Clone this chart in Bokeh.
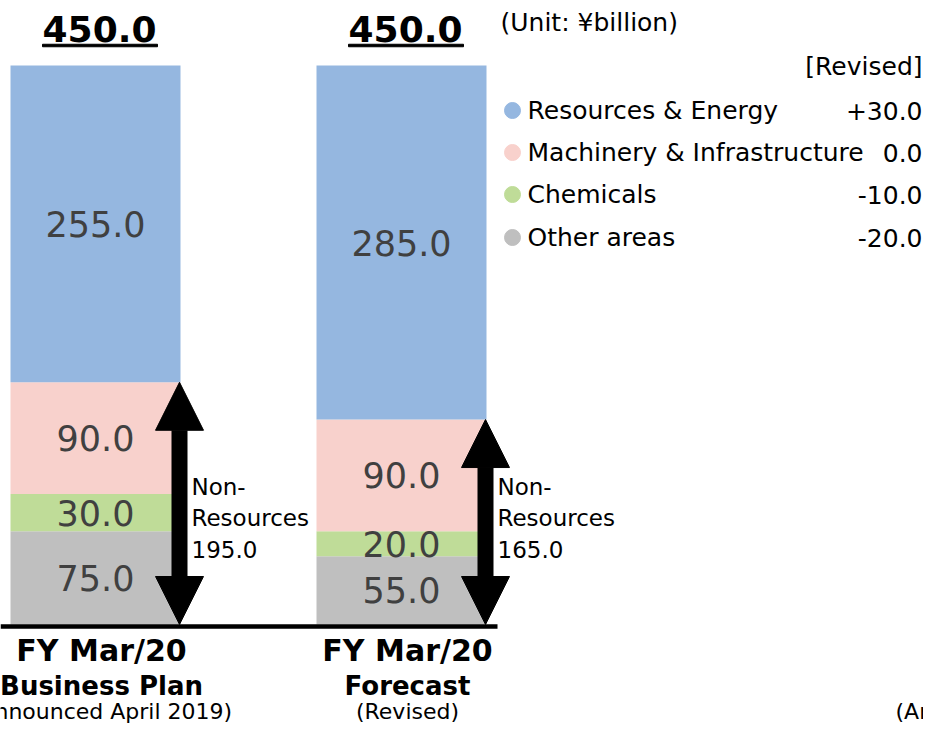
from bokeh.plotting import figure
from bokeh.models import Range1d, Arrow, NormalHead, ColumnDataSource
from bokeh.core.properties import value
from bokeh.embed import file_html
from bokeh.resources import INLINE

# ---------------- data ----------------
cat_line1 = ["FY Mar/20", "FY Mar/20"]
cat_line2 = ["Business Plan", "Forecast"]
cat_line3 = ["(Announced April 2019)", "(Revised)"]
segment_keys = ["other", "chemicals", "machinery", "resources"]
other = [75.0, 55.0]
chemicals = [30.0, 20.0]
machinery = [90.0, 90.0]
resources = [255.0, 285.0]
legend_names = ["Resources & Energy", "Machinery & Infrastructure", "Chemicals", "Other areas"]
unit_label = "(Unit: ¥billion)"
revised_header = "[Revised]"
cut_label = "(Announced April 2019)"

# ---------------- style ----------------
colors = {"resources": "#95B7E0", "machinery": "#F8D1CC", "chemicals": "#BFDC98", "other": "#BFBFBF"}
FONT = value("DejaVu Sans")

W, H = 923, 723
UX = 306.0                 # px per category step
PX = (624.0 - 65.0) / 450  # px per value unit
X0_REF, Y0_REF = 95.0, 624.0

def X(ref):
    return (ref - X0_REF) / UX

def Y(ref):
    return (Y0_REF - ref) / PX

x_start = X(0)
y_start = Y(H)

p = figure(width=W, height=H, output_backend="svg", toolbar_location=None,
           x_range=Range1d(x_start, x_start + W / UX),
           y_range=Range1d(y_start, y_start + H / PX),
           x_axis_type=None, y_axis_type=None, min_border=0)
p.outline_line_color = None
p.grid.visible = False
p.background_fill_color = "white"

xs = list(range(len(cat_line1)))
src = ColumnDataSource(dict(x=xs, other=other, chemicals=chemicals,
                            machinery=machinery, resources=resources))
p.vbar_stack(segment_keys, x="x", width=170 / UX, source=src,
             color=[colors[k] for k in segment_keys], line_color=None)

# segment value labels
series = {"other": other, "chemicals": chemicals, "machinery": machinery, "resources": resources}
lx, ly, lt = [], [], []
for i in xs:
    bottom = 0.0
    for k in segment_keys:
        v = series[k][i]
        lx.append(i)
        ly.append(bottom + v / 2)
        lt.append(f"{v:.1f}")
        bottom += v
p.text(x=lx, y=ly, text=lt, text_align="center", text_baseline="middle",
       text_font=FONT, text_font_size="35px", text_color="#404040")

# totals, underlined
totals = [other[i] + chemicals[i] + machinery[i] + resources[i] for i in xs]
p.text(x=xs, y=totals, text=[f"{t:.1f}" for t in totals], x_offset=4, y_offset=-37,
       text_align="center", text_baseline="middle", text_font=FONT,
       text_font_size="36px", text_font_style="bold", text_color="black")
p.rect(x=[i + 4.5 / UX for i in xs], y=[t + 20 / PX for t in totals], width=115,
       width_units="screen", height=2.5, height_units="screen", color="black")

# non-resources arrows and labels
nonres = [other[i] + chemicals[i] + machinery[i] for i in xs]
for i in xs:
    ax = i + 84 / UX
    p.add_layout(Arrow(x_start=ax, y_start=nonres[i], x_end=ax, y_end=0,
                       line_width=16, line_color="black",
                       start=NormalHead(size=48, fill_color="black", line_color="black"),
                       end=NormalHead(size=48, fill_color="black", line_color="black")))
p.text(x=[i + 96 / UX for i in xs], y=[Y(518)] * len(xs),
       text=[f"Non-\nResources\n{n:.1f}" for n in nonres],
       text_align="left", text_baseline="middle", text_font=FONT,
       text_font_size="23px", text_line_height=1.22, text_color="black")

# baseline
p.line(x=[x_start, X(497)], y=[Y(626), Y(626)], line_width=4.5, line_color="black")

# category labels
cx = [i + 6 / UX for i in xs]
p.text(x=cx, y=[Y(650)] * 2, text=cat_line1, text_align="center",
       text_baseline="middle", text_font=FONT, text_font_size="30px",
       text_font_style="bold", text_color="black")
p.text(x=cx, y=[Y(685)] * 2, text=cat_line2, text_align="center",
       text_baseline="middle", text_font=FONT, text_font_size="26px",
       text_font_style="bold", text_color="black")
p.text(x=cx, y=[Y(711)] * 2, text=cat_line3, text_align="center",
       text_baseline="middle", text_font=FONT, text_font_size="22px",
       text_color="black")
p.text(x=[X(895)], y=[Y(711)], text=[cut_label], text_align="left",
       text_baseline="middle", text_font=FONT, text_font_size="22px", text_color="black")

# legend block
p.text(x=[X(500)], y=[Y(22)], text=[unit_label], text_align="left", text_baseline="middle",
       text_font=FONT, text_font_size="25px", text_color="black")
p.text(x=[X(922)], y=[Y(66)], text=[revised_header], text_align="right",
       text_baseline="middle", text_font=FONT, text_font_size="25px", text_color="black")

leg_keys = ["resources", "machinery", "chemicals", "other"]
leg_y = [Y(110), Y(152), Y(194), Y(237)]
diffs = [series[k][1] - series[k][0] for k in leg_keys]
diff_txt = [f"{d:+.1f}" if d != 0 else f"{abs(d):.1f}" for d in diffs]
p.scatter(x=[X(512)] * 4, y=leg_y, size=16, color=[colors[k] for k in leg_keys])
p.text(x=[X(527)] * 4, y=leg_y, text=legend_names, text_align="left", text_baseline="middle",
       text_font=FONT, text_font_size="25px", text_color="black")
p.text(x=[X(922)] * 4, y=leg_y, text=diff_txt, text_align="right", text_baseline="middle",
       text_font=FONT, text_font_size="25px", text_color="black")

open("out.html", "w").write(file_html(p, INLINE))
